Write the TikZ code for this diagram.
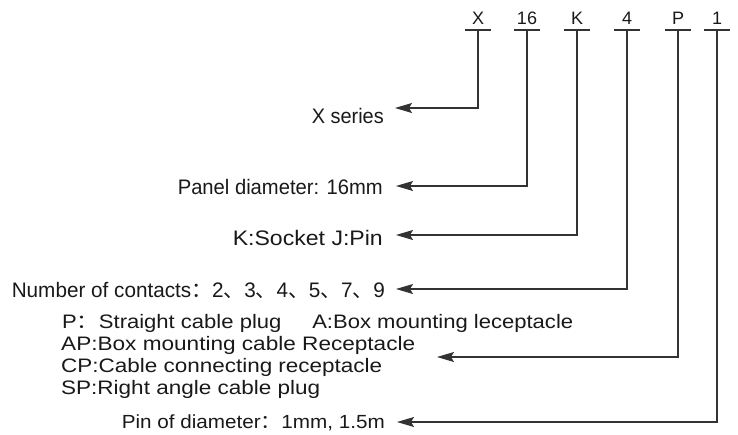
\documentclass[tikz,border=0pt]{standalone}
\usepackage{fontspec}
\setmainfont{Liberation Sans}
\newfontfamily\cjk{Noto Sans CJK SC}
\usetikzlibrary{arrows.meta}
\newcommand\fitw[2]{\resizebox{#1}{\height}{#2}}
\begin{document}
\begin{tikzpicture}[x=1pt,y=-1pt,
  code/.style={inner sep=0pt, anchor=base, text=black!90, font=\fontsize{18}{20}\selectfont},
  big/.style={inner sep=0pt, anchor=base east, text=black!90, font=\fontsize{21}{23}\selectfont},
  small/.style={inner sep=0pt, anchor=base west, text=black!90, font=\fontsize{19.5}{21}\selectfont},
  bar/.style={draw=black!80, line width=1.1pt},
  conn/.style={draw=black!80, line width=1.2pt, -{Stealth[length=17pt,width=10pt,inset=3pt]}}]
\useasboundingbox (0,0) rectangle (738,434);
% code letters
\node[code] (cX) at (478,24) {X};
\node[code] (c16) at (527,24) {16};
\node[code] (cK) at (577,24) {K};
\node[code] (c4) at (627,24) {4};
\node[code] (cP) at (678,24) {P};
\node[code] (c1) at (717,24) {1};
\foreach \n in {X,16,K,4,P,1}{
  \coordinate (b\n) at ([yshift=-6pt]c\n.base);
  \draw[bar] ([xshift=-13pt]b\n) -- ([xshift=13pt]b\n);
}
% descriptions
\node[big] (tX) at (384,123) {\fitw{72pt}{X series}};
\node[big] (t16) at (383,194) {\fitw{205pt}{Panel diameter: 16mm}};
\node[big] (tK) at (383,245) {\fitw{150pt}{K:Socket J:Pin}};
\node[big] (t4) at (385,297) {\fitw{373pt}{Number of contacts{\cjk ：}2{\cjk 、}3{\cjk 、}4{\cjk 、}5{\cjk 、}7{\cjk 、}9}};
\node[small] (p1) at (62,328) {\fitw{511pt}{P{\cjk ：}Straight cable plug\hspace{1.4em}A:Box mounting leceptacle}};
\node[small] (p2) at (61,350) {\fitw{354pt}{AP:Box mounting cable Receptacle}};
\node[small] (p3) at (61,372) {\fitw{321pt}{CP:Cable connecting receptacle}};
\node[small] (p4) at (61,394) {\fitw{259pt}{SP:Right angle cable plug}};
\node[inner sep=0pt, anchor=base east, text=black!90, font=\fontsize{19}{21}\selectfont] (t1) at (385,428) {\fitw{263pt}{Pin of diameter{\cjk ：}1mm, 1.5m}};
% arrow tips
\coordinate (aX) at (395,108);
\coordinate (a16) at (396,186);
\coordinate (aK) at (396,235);
\coordinate (a4) at (396,289);
\coordinate (aP) at (437,357);
\coordinate (a1) at (397,422);
\foreach \n in {X,16,K,4,P,1}{
  \draw[conn] (b\n) |- (a\n);
}
\end{tikzpicture}
\end{document}
